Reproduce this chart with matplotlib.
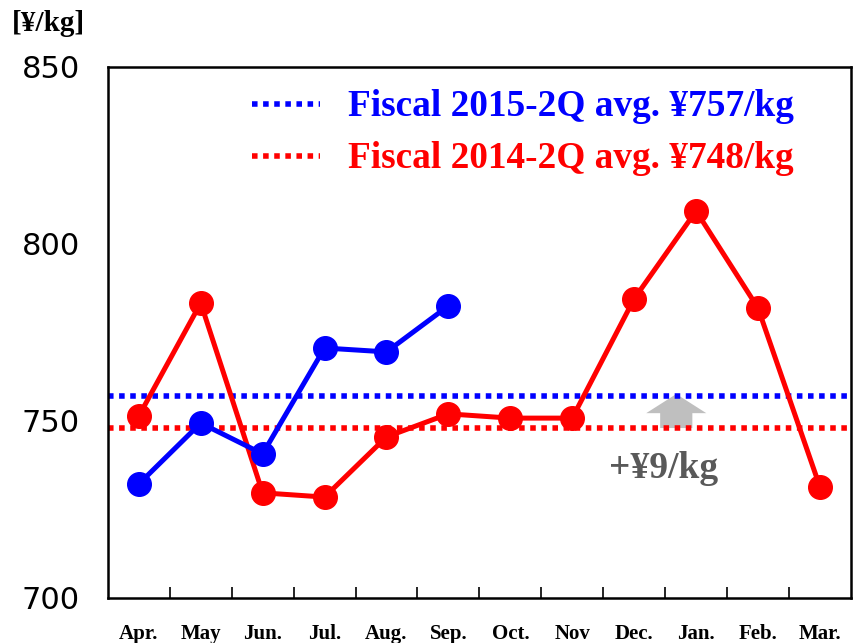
import matplotlib.pyplot as plt
from matplotlib.patches import FancyArrow

months = ['Apr.', 'May', 'Jun.', 'Jul.', 'Aug.', 'Sep.', 'Oct.', 'Nov', 'Dec.', 'Jan.', 'Feb.', 'Mar.']
price_2015 = [732.2, 749.4, 740.7, 770.6, 769.5, 782.5]
price_2014 = [751.4, 783.3, 729.7, 728.5, 745.5, 752.0, 750.8, 750.8, 784.5, 809.3, 781.9, 731.4]
avg_2015 = 757
avg_2014 = 748
diff_label = '+¥9/kg'

serif = ['Liberation Serif', 'DejaVu Serif']

fig = plt.figure(figsize=(8.56, 6.43), dpi=100)
ax = fig.add_axes([0.126, 0.070, 0.868, 0.826])

x14 = list(range(len(price_2014)))
x15 = list(range(len(price_2015)))

ax.axhline(avg_2015, color='#0000ff', lw=4, ls=(0, (1, 1)), zorder=2)
ax.axhline(avg_2014, color='#ff0000', lw=4, ls=(0, (1, 1)), zorder=2)

ax.plot(x14, price_2014, color='#ff0000', lw=3.6, marker='o', ms=17, zorder=3)
ax.plot(x15, price_2015, color='#0000ff', lw=3.6, marker='o', ms=17, zorder=4)

# gray arrow showing the difference
arr = FancyArrow(8.68, avg_2014, 0, avg_2015 - avg_2014 + 0.6, width=0.52, head_width=0.97,
                 head_length=5.4, length_includes_head=True, color='#bfbfbf', lw=0, zorder=1)
ax.add_patch(arr)
ax.text(8.48, 736.5, diff_label, color='#595959', fontsize=27, fontweight='bold',
        family=serif, ha='center', va='center')

# legend drawn by hand
ax.plot([0.194, 0.285], [0.930, 0.930], transform=ax.transAxes, color='#0000ff', lw=4, ls=(0, (1, 1)))
ax.plot([0.194, 0.285], [0.832, 0.832], transform=ax.transAxes, color='#ff0000', lw=4, ls=(0, (1, 1)))
ax.text(0.323, 0.926, 'Fiscal 2015-2Q avg. ¥%d/kg' % avg_2015, transform=ax.transAxes, color='#0000ff',
        fontsize=26.8, fontweight='bold', family=serif, va='center', ha='left')
ax.text(0.323, 0.828, 'Fiscal 2014-2Q avg. ¥%d/kg' % avg_2014, transform=ax.transAxes, color='#ff0000',
        fontsize=26.8, fontweight='bold', family=serif, va='center', ha='left')

ax.set_xlim(-0.5, 11.5)
ax.set_ylim(700, 850)
ax.set_yticks([700, 750, 800, 850])
ax.set_yticklabels(['700', '750', '800', '850'], family='DejaVu Sans', fontsize=22)
ax.tick_params(axis='y', length=0, pad=20)

ax.set_xticks(x14)
ax.set_xticklabels(months, family=serif, fontweight='bold', fontsize=15)
ax.set_xticks([i + 0.5 for i in range(11)], minor=True)
ax.tick_params(axis='x', which='major', length=0, pad=19)
ax.tick_params(axis='x', which='minor', direction='in', length=8, width=1.2)

for s in ax.spines.values():
    s.set_linewidth(1.8)

fig.text(0.014, 0.963, '[¥/kg]', family=serif, fontweight='bold', fontsize=21, va='center', ha='left')

fig.savefig('out.png', dpi=100)
